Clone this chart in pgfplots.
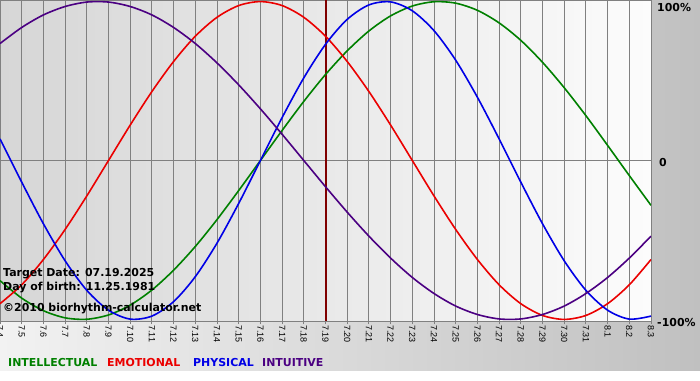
\documentclass[border=0pt]{standalone}
\usepackage{pgfplots}
\pgfplotsset{compat=1.18}
\usepackage{fontspec}
\setmainfont{DejaVu Sans}
\newfontfamily\tickfont{Liberation Sans}
\definecolor{cint}{RGB}{0,128,0}
\definecolor{cemo}{RGB}{235,0,0}
\definecolor{cphy}{RGB}{0,0,230}
\definecolor{cintu}{RGB}{75,0,130}
\definecolor{cmark}{RGB}{128,0,0}
\definecolor{bgl}{RGB}{214,214,214}
\definecolor{bgr}{RGB}{252,252,252}
\definecolor{outl}{RGB}{242,242,242}
\definecolor{outr}{RGB}{192,192,192}
\definecolor{gridc}{RGB}{128,128,128}
\begin{document}
\begin{tikzpicture}[x=1bp,y=1bp]
\useasboundingbox (0,0) rectangle (700,380);
\fill[white] (0,0) rectangle (700,10);
\shade[left color=outl, right color=outr] (0,10) rectangle (700,380);
\begin{axis}[
  at={(0bp,59bp)}, anchor=south west, scale only axis,
  width=651bp, height=321bp,
  xmin=0, xmax=30, ymin=-101, ymax=101,
  axis background/.style={shade, left color=bgl, right color=bgr},
  axis line style={draw=gridc, line width=0.8bp},
  xtick={0,...,30},
  xticklabels={7.4,7.5,7.6,7.7,7.8,7.9,7.10,7.11,7.12,7.13,7.14,7.15,7.16,7.17,7.18,7.19,7.20,7.21,7.22,7.23,7.24,7.25,7.26,7.27,7.28,7.29,7.30,7.31,8.1,8.2,8.3},
  xticklabel style={rotate=-90, anchor=west, inner sep=1bp, font=\tickfont\fontsize{9}{10}\selectfont},
  xtick pos=bottom, tick align=outside,
  xtick style={draw=gridc, line width=0.9bp},
  ytick style={draw=none},
  ytick={0}, yticklabels={},
  xmajorgrids, ymajorgrids,
  major grid style={draw=gridc, line width=0.9bp},
  major tick length=3bp,
  every axis plot/.append style={line width=1.6bp, smooth},
]
\addplot[draw=cmark, line width=2bp, sharp plot] coordinates {(15,-101) (15,101)};
% Intellectual (33 days)
\addplot[cint] coordinates {
(0,-75.6) (1,-86.6) (2,-94.5) (3,-99.0) (4,-99.9) (5,-97.2) (6,-91.0) (7,-81.5) (8,-69.0) (9,-54.1)
(10,-37.2) (11,-18.9) (12,0) (13,18.9) (14,37.2) (15,54.1) (16,69.0) (17,81.5) (18,91.0) (19,97.2)
(20,99.9) (21,99.0) (22,94.5) (23,86.6) (24,75.6) (25,61.8) (26,45.8) (27,28.2) (28,9.5) (29,-9.5) (30,-28.2)};
% Emotional (28 days)
\addplot[cemo] coordinates {
(0,-90.1) (1,-78.2) (2,-62.3) (3,-43.4) (4,-22.3) (5,0) (6,22.3) (7,43.4) (8,62.3) (9,78.2)
(10,90.1) (11,97.5) (12,100) (13,97.5) (14,90.1) (15,78.2) (16,62.3) (17,43.4) (18,22.3) (19,0)
(20,-22.3) (21,-43.4) (22,-62.3) (23,-78.2) (24,-90.1) (25,-97.5) (26,-100) (27,-97.5) (28,-90.1) (29,-78.2) (30,-62.3)};
% Physical (23 days)
\addplot[cphy] coordinates {
(0,13.6) (1,-13.6) (2,-39.8) (3,-63.1) (4,-81.7) (5,-94.2) (6,-99.8) (7,-97.9) (8,-88.8) (9,-73.1)
(10,-52.0) (11,-27.0) (12,0) (13,27.0) (14,52.0) (15,73.1) (16,88.8) (17,97.9) (18,99.8) (19,94.2)
(20,81.7) (21,63.1) (22,39.8) (23,13.6) (24,-13.6) (25,-39.8) (26,-63.1) (27,-81.7) (28,-94.2) (29,-99.8) (30,-97.9)};
% Intuitive (38 days)
\addplot[cintu] coordinates {
(0,73.6) (1,83.7) (2,91.6) (3,96.9) (4,99.7) (5,99.7) (6,96.9) (7,91.6) (8,83.7) (9,73.6)
(10,61.4) (11,47.6) (12,32.5) (13,16.5) (14,0) (15,-16.5) (16,-32.5) (17,-47.6) (18,-61.4) (19,-73.6)
(20,-83.7) (21,-91.6) (22,-96.9) (23,-99.7) (24,-99.7) (25,-96.9) (26,-91.6) (27,-83.7) (28,-73.6) (29,-61.4) (30,-47.6)};
\end{axis}
\begin{scope}[every node/.style={inner sep=0pt, font=\bfseries\fontsize{11}{13}\selectfont}]
\node[anchor=base west] at (3,104) {Target Date: 07.19.2025};
\node[anchor=base west] at (3,90) {Day of birth: 11.25.1981};
\node[anchor=base west] at (3,69) {©2010 biorhythm-calculator.net};
\node[anchor=base west] at (657,369) {100\%};
\node[anchor=base west] at (659,214) {0};
\node[anchor=base west] at (657,54) {-100\%};
\node[anchor=base west, text=cint] at (8,14) {INTELLECTUAL};
\node[anchor=base west, text=cemo] at (107,14) {EMOTIONAL};
\node[anchor=base west, text=cphy] at (193,14) {PHYSICAL};
\node[anchor=base west, text=cintu] at (262,14) {INTUITIVE};
\end{scope}
\end{tikzpicture}
\end{document}
